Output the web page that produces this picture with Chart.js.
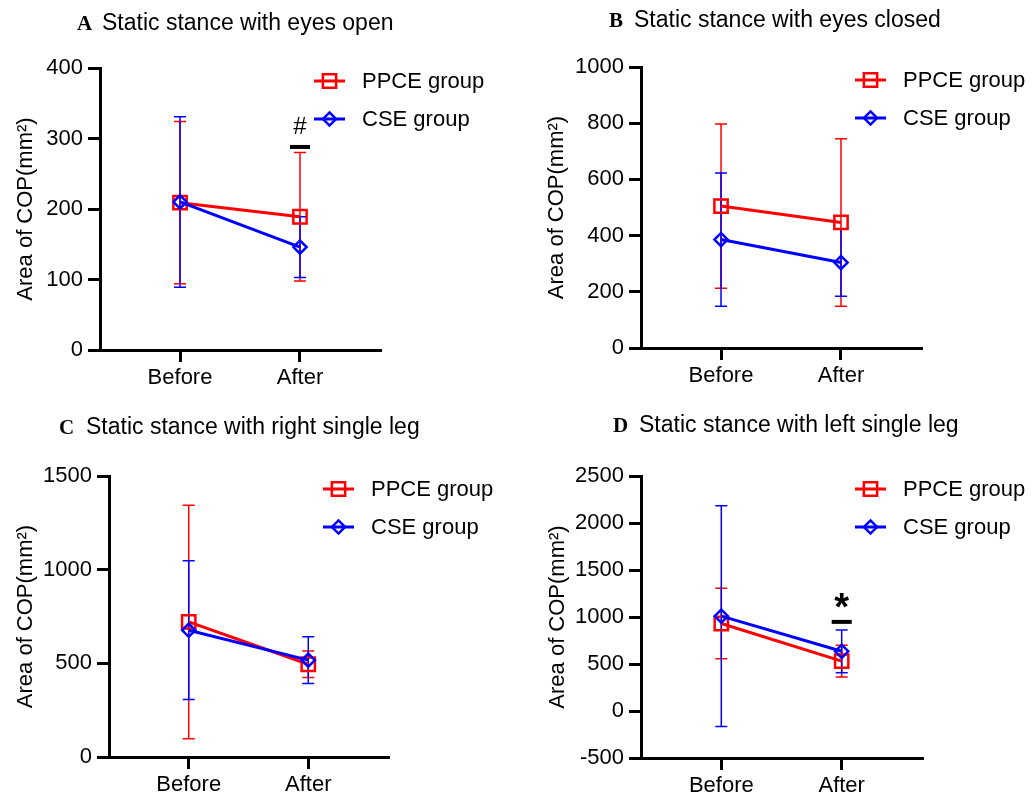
<!DOCTYPE html>
<html>
<head>
<meta charset="utf-8">
<script src="https://cdn.jsdelivr.net/npm/chart.js@4.4.0/dist/chart.umd.min.js"></script>
<style>
  html, body { margin: 0; padding: 0; background: #fff; }
  #wrap { position: relative; width: 1034px; height: 799px; }
  canvas { position: absolute; }
</style>
</head>
<body>
<div id="wrap">
  <canvas id="panelA" width="517" height="400" style="left:0;top:0"></canvas>
  <canvas id="panelB" width="517" height="400" style="left:517px;top:0"></canvas>
  <canvas id="panelC" width="517" height="399" style="left:0;top:400px"></canvas>
  <canvas id="panelD" width="517" height="399" style="left:517px;top:400px"></canvas>
</div>
<script>
'use strict'

const timepoints = ['Before', 'After'];
const groupNames = ['PPCE group', 'CSE group'];

// A: eyes open
const eyesOpenPPCE = [209, 189];
const eyesOpenPPCESd = [115, 91];
const eyesOpenCSE = [210, 146];
const eyesOpenCSESd = [121, 43];
const eyesOpenTicks = [0, 100, 200, 300, 400];

// B: eyes closed
const eyesClosedPPCE = [505, 447];
const eyesClosedPPCESd = [292, 298];
const eyesClosedCSE = [386, 304];
const eyesClosedCSESd = [237, 120];
const eyesClosedTicks = [0, 200, 400, 600, 800, 1000];

// C: right single leg
const rightLegPPCE = [721, 495];
const rightLegPPCESd = [623, 71];
const rightLegCSE = [677, 517];
const rightLegCSESd = [370, 125];
const rightLegTicks = [0, 500, 1000, 1500];

// D: left single leg
const leftLegPPCE = [931, 531];
const leftLegPPCESd = [376, 169];
const leftLegCSE = [1009, 635];
const leftLegCSESd = [1175, 227];
const leftLegTicks = [-500, 0, 500, 1000, 1500, 2000, 2500];

// significance marks: [symbol, timepoint index, bar value]
const eyesOpenSig = ['#', 1, 288];
const leftLegSig = ['*', 1, 948];

const SANS = '"Liberation Sans", Arial, sans-serif';
const RED = '#ff0000';
const BLUE = '#0000ff';

const errorBars = {
    id: 'errorBars',
    beforeDatasetsDraw(chart) {
        const ctx = chart.ctx, x = chart.scales.x, y = chart.scales.y;
        chart.data.datasets.forEach(ds => {
            ds.data.forEach((p, j) => {
                const px = x.getPixelForValue(p.x);
                const top = y.getPixelForValue(p.y + ds.sd[j]);
                const bot = y.getPixelForValue(p.y - ds.sd[j]);
                ctx.save();
                ctx.strokeStyle = ds.borderColor;
                ctx.lineWidth = 1.5;
                ctx.beginPath();
                ctx.moveTo(px, top); ctx.lineTo(px, bot);
                ctx.moveTo(px - 6, top); ctx.lineTo(px + 6, top);
                ctx.moveTo(px - 6, bot); ctx.lineTo(px + 6, bot);
                ctx.stroke();
                ctx.restore();
            });
        });
    }
};

function marker(ctx, style, r, x, y) {
    ctx.beginPath();
    if (style === 'rect') {
        const s = r * Math.SQRT1_2;
        ctx.rect(x - s, y - s, 2 * s, 2 * s);
    } else {
        ctx.moveTo(x, y - r); ctx.lineTo(x + r, y); ctx.lineTo(x, y + r); ctx.lineTo(x - r, y);
        ctx.closePath();
    }
    ctx.stroke();
}

const sideLegend = {
    id: 'sideLegend',
    afterDraw(chart, args, opts) {
        const ctx = chart.ctx, area = chart.chartArea;
        chart.data.datasets.forEach((ds, i) => {
            const x0 = area.left + 214, y0 = area.top + 13 + i * 38;
            ctx.save();
            ctx.strokeStyle = ds.borderColor;
            ctx.lineWidth = 3;
            ctx.beginPath(); ctx.moveTo(x0, y0); ctx.lineTo(x0 + 31, y0); ctx.stroke();
            ctx.lineWidth = ds.pointBorderWidth;
            marker(ctx, ds.pointStyle, ds.pointRadius, x0 + 15.5, y0);
            ctx.fillStyle = '#000';
            ctx.font = '22px ' + SANS;
            ctx.textBaseline = 'middle';
            ctx.fillText(ds.label, x0 + 48, y0 + 1);
            ctx.restore();
        });
    }
};

const panelTitle = {
    id: 'panelTitle',
    afterDraw(chart, args, opts) {
        const ctx = chart.ctx;
        ctx.save();
        ctx.fillStyle = '#000';
        ctx.textBaseline = 'alphabetic';
        ctx.font = 'bold 21px "Liberation Serif", "Times New Roman", serif';
        ctx.fillText(opts.letter, opts.letterX, opts.baseline);
        ctx.font = '23px ' + SANS;
        ctx.fillText(opts.text, opts.textX, opts.baseline);
        if (opts.sig) {
            const px = chart.scales.x.getPixelForValue(opts.sig[1]);
            const py = chart.scales.y.getPixelForValue(opts.sig[2]);
            ctx.fillRect(px - 10, py - 2, 20, 4);
            ctx.font = (opts.sig[0] === '*' ? 'bold 38px ' : '24px ') + SANS;
            const m = ctx.measureText(opts.sig[0]);
            const mid = (m.actualBoundingBoxAscent - m.actualBoundingBoxDescent) / 2;
            ctx.textAlign = 'center';
            ctx.fillText(opts.sig[0], px, py - 21 + mid);
        }
        ctx.restore();
    }
};

function series(label, means, sds, color, style, radius, order) {
    return {
        label: label,
        data: means.map((v, i) => ({x: i, y: v})),
        sd: sds,
        borderColor: color,
        borderWidth: 3,
        pointStyle: style,
        pointRadius: radius,
        pointHoverRadius: radius,
        pointBorderWidth: 2.5,
        pointBackgroundColor: 'rgba(0,0,0,0)',
        pointBorderColor: color,
        order: order
    };
}

function makePanel(id, box, letter, text, ppce, ppceSd, cse, cseSd, ticks, sig) {
    const el = document.getElementById(id);
    const W = el.width, H = el.height;
    new Chart(el.getContext('2d'), {
        type: 'line',
        data: {
            datasets: [
                series(groupNames[0], ppce, ppceSd, RED, 'rect', 9.4, 2),
                series(groupNames[1], cse, cseSd, BLUE, 'rectRot', 6.6, 1)
            ]
        },
        options: {
            responsive: false,
            animation: false,
            events: [],
            layout: { padding: { left: 0, top: box.top, right: W - box.right, bottom: 0 } },
            plugins: {
                legend: { display: false },
                tooltip: { enabled: false },
                panelTitle: { letter: letter, text: text, letterX: box.letterX, textX: box.textX, baseline: box.baseline, sig: sig }
            },
            scales: {
                x: {
                    type: 'linear',
                    min: -0.667,
                    max: 1.667,
                    afterBuildTicks: s => { s.ticks = timepoints.map((t, i) => ({value: i})); },
                    afterFit: s => { s.height = H - box.bottom; },
                    ticks: { callback: v => timepoints[v], color: '#000', font: { size: 22, family: SANS }, padding: 3, maxRotation: 0 },
                    grid: { drawOnChartArea: false, drawTicks: true, tickLength: 12, lineWidth: 3, color: '#000' },
                    border: { color: '#000', width: 3 }
                },
                y: {
                    min: ticks[0],
                    max: ticks[ticks.length - 1],
                    afterBuildTicks: s => { s.ticks = ticks.map(v => ({value: v})); },
                    afterFit: s => { s.width = box.axisX; },
                    ticks: { callback: v => String(v), color: '#000', font: { size: 22, family: SANS }, padding: 5 },
                    grid: { drawOnChartArea: false, drawTicks: true, tickLength: 12, lineWidth: 3, color: '#000' },
                    border: { color: '#000', width: 3 },
                    title: { display: true, text: 'Area of COP(mm²)', color: '#000', font: { size: 22, family: SANS }, padding: { top: box.yTitle - 13.2, bottom: 0 } }
                }
            }
        },
        plugins: [errorBars, sideLegend, panelTitle]
    });
}

document.addEventListener('DOMContentLoaded', function() {
    makePanel('panelA', {axisX: 100, top: 68, bottom: 350, right: 380, yTitle: 26, letterX: 77, textX: 102, baseline: 30},
        'A', 'Static stance with eyes open', eyesOpenPPCE, eyesOpenPPCESd, eyesOpenCSE, eyesOpenCSESd, eyesOpenTicks, eyesOpenSig);
    makePanel('panelB', {axisX: 124, top: 67, bottom: 348, right: 404, yTitle: 40, letterX: 92, textX: 117, baseline: 27},
        'B', 'Static stance with eyes closed', eyesClosedPPCE, eyesClosedPPCESd, eyesClosedCSE, eyesClosedCSESd, eyesClosedTicks, null);
    makePanel('panelC', {axisX: 109, top: 76, bottom: 357, right: 388, yTitle: 26, letterX: 59, textX: 86, baseline: 34},
        'C', 'Static stance with right single leg', rightLegPPCE, rightLegPPCESd, rightLegCSE, rightLegCSESd, rightLegTicks, null);
    makePanel('panelD', {axisX: 124, top: 76, bottom: 358, right: 405, yTitle: 41, letterX: 96, textX: 122, baseline: 32},
        'D', 'Static stance with left single leg', leftLegPPCE, leftLegPPCESd, leftLegCSE, leftLegCSESd, leftLegTicks, leftLegSig);
});
</script>
</body>
</html>
